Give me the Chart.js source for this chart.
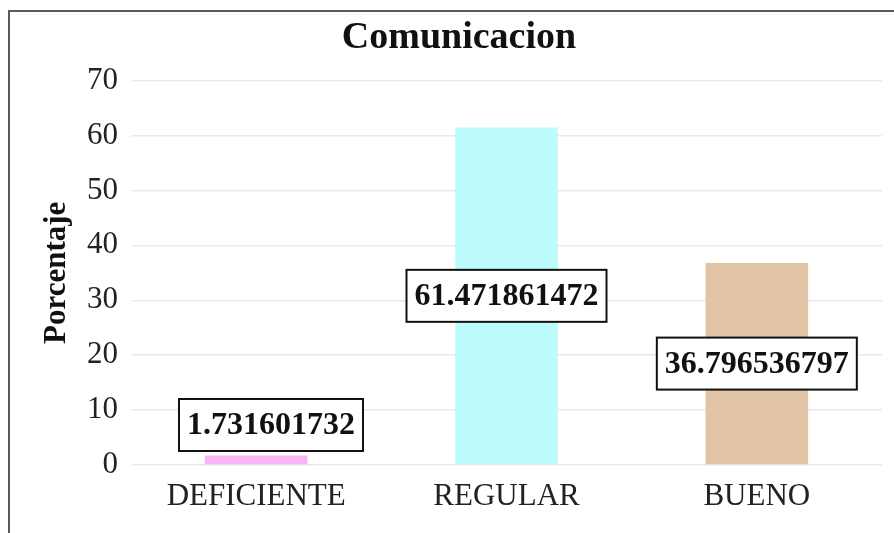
<!DOCTYPE html>
<html>
<head>
<meta charset="utf-8">
<script src="https://cdn.jsdelivr.net/npm/chart.js@4.4.1/dist/chart.umd.min.js"></script>
<style>
  html, body { margin: 0; padding: 0; background: #fff; overflow: hidden; }
  #box {
    position: absolute;
    left: 8px;
    top: 10px;
    width: 900px;
    height: 540px;
    border: 2px solid #5a5a5a;
  }
  #chart { display: block; }
</style>
</head>
<body>
<div id="box">
  <canvas id="chart" width="884" height="530"></canvas>
</div>
<script>
// Datos del gráfico
const categorias = ['DEFICIENTE', 'REGULAR', 'BUENO'];
const porcentajes = [1.731601732, 61.471861472, 36.796536797];
const coloresBarras = ['#f8b4f5', '#bcfcfc', '#e1c5a6'];
const tituloGrafico = 'Comunicacion';
const tituloEjeY = 'Porcentaje';
const ticksY = [0, 10, 20, 30, 40, 50, 60, 70];

const FONT = "'Liberation Serif', 'Times New Roman', serif";

// Etiquetas con caja blanca y borde negro en el centro de cada barra
// (se mantienen dentro del área del gráfico)
const boxLabels = {
  id: 'boxLabels',
  afterDatasetsDraw(chart) {
    const ctx = chart.ctx;
    const meta = chart.getDatasetMeta(0);
    const area = chart.chartArea;
    ctx.save();
    ctx.font = 'bold 32px ' + FONT;
    ctx.textAlign = 'center';
    ctx.textBaseline = 'middle';
    meta.data.forEach((bar, i) => {
      const text = String(porcentajes[i]);
      const w = ctx.measureText(text).width + 16;
      const h = 52;
      let cx = Math.max(bar.x, area.left + 48 + w / 2);
      let cy = (bar.y + bar.base) / 2;
      cy = Math.min(cy, area.bottom - 14 - h / 2);
      ctx.fillStyle = '#fff';
      ctx.fillRect(cx - w / 2, cy - h / 2, w, h);
      ctx.lineWidth = 2;
      ctx.strokeStyle = '#111';
      ctx.strokeRect(cx - w / 2, cy - h / 2, w, h);
      ctx.fillStyle = '#111';
      ctx.fillText(text, cx, cy + 1);
    });
    ctx.restore();
  }
};

Chart.defaults.font.family = FONT;
Chart.defaults.color = '#222';

new Chart(document.getElementById('chart'), {
  type: 'bar',
  data: {
    labels: categorias,
    datasets: [{
      data: porcentajes,
      backgroundColor: coloresBarras,
      borderWidth: 0,
      barPercentage: 0.41,
      categoryPercentage: 1
    }]
  },
  options: {
    responsive: false,
    animation: false,
    layout: { padding: { left: 26, right: 12, top: 0, bottom: 0 } },
    plugins: {
      legend: { display: false },
      tooltip: { enabled: false },
      title: {
        display: true,
        text: tituloGrafico,
        color: '#111',
        font: { size: 38, weight: 'bold', family: FONT },
        padding: { top: 3, bottom: 20 }
      }
    },
    scales: {
      x: {
        grid: { display: false, drawTicks: false },
        border: { display: false },
        ticks: { padding: 13, color: '#222', font: { size: 31, family: FONT } },
        afterFit: (scale) => { scale.height = 77; }
      },
      y: {
        min: 0,
        max: 70,
        afterBuildTicks: (scale) => { scale.ticks = ticksY.map(v => ({ value: v })); },
        grid: { color: '#e7e9f0', lineWidth: 1.5, drawTicks: false },
        border: { display: false },
        ticks: { padding: 13, color: '#222', font: { size: 31, family: FONT } },
        title: {
          display: true,
          text: tituloEjeY,
          color: '#111',
          font: { size: 31, weight: 'bold', family: FONT },
          padding: { top: 2, bottom: 0 }
        },
        afterFit: (scale) => { scale.width = 95; }
      }
    }
  },
  plugins: [boxLabels]
});
</script>
</body>
</html>
